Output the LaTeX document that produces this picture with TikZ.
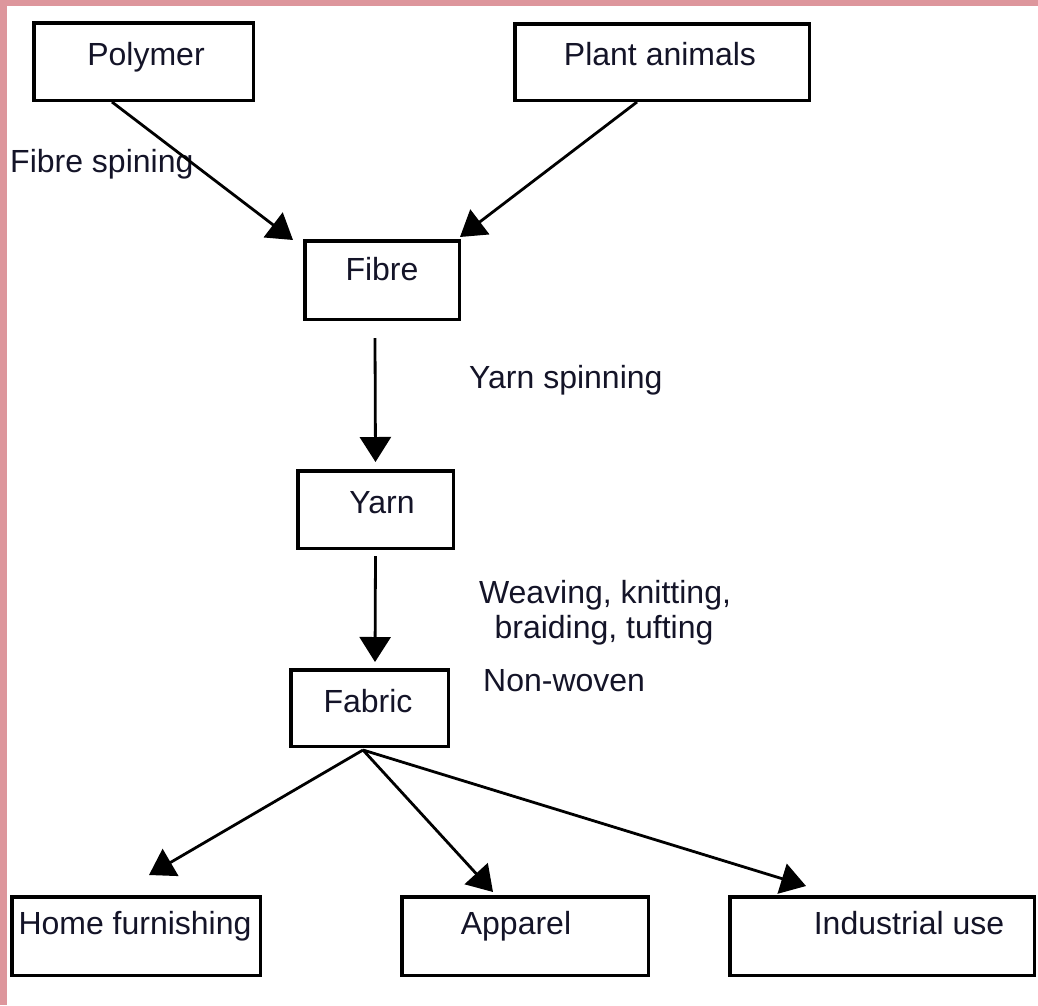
\documentclass[tikz,border=0pt]{standalone}
\usepackage{fontspec}
\setmainfont{Liberation Sans}
\usetikzlibrary{arrows.meta}
\definecolor{frame}{RGB}{221,150,156}
\definecolor{ink}{RGB}{20,20,40}
\begin{document}
\begin{tikzpicture}[x=1pt,y=-1pt,
  box/.style={draw=black,line width=3.5pt,fill=white,inner sep=0pt,rectangle},
  txt/.style={anchor=base,inner sep=0pt,text=ink,font=\fontsize{32}{35}\selectfont},
  arr/.style={draw=black,line width=2.8pt,-{Triangle[length=25pt,width=31pt]}}]
% page with a rose frame on top and left
\fill[frame] (0,0) rectangle (1038,1005);
\fill[white] (7,6) rectangle (1038,1005);
\useasboundingbox (0,0) rectangle (1038,1005);

% boxes
\node[box,minimum width=219.5pt,minimum height=77.5pt] (poly) at (143.5,61.5) {};
\node[box,minimum width=294.5pt,minimum height=76.5pt] (plant) at (662,62) {};
\node[box,minimum width=154.5pt,minimum height=78.5pt] (fibre) at (382,280) {};
\node[box,minimum width=155.5pt,minimum height=77.5pt] (yarn) at (375.5,509.5) {};
\node[box,minimum width=157.5pt,minimum height=76.5pt] (fabric) at (369.5,708) {};
\node[box,minimum width=248.5pt,minimum height=78.5pt] (home) at (136,936) {};
\node[box,minimum width=246.5pt,minimum height=78.5pt] (app) at (525,936) {};
\node[box,minimum width=304.5pt,minimum height=78.5pt] (ind) at (882,936) {};

% box texts
\node[txt] (poly-t) at (146,65) {Polymer};
\node[txt] (plant-t) at (660,65) {Plant animals};
\node[txt] (fibre-t) at (382,280) {Fibre};
\node[txt] (yarn-t) at (382,513) {Yarn};
\node[txt] (fabric-t) at (368,712) {Fabric};
\node[txt] (home-t) at (135,934) {Home furnishing};
\node[txt] (app-t) at (516,934) {Apparel};
\node[txt] (ind-t) at (909,934) {Industrial use};

% process labels
\node[txt,anchor=base west] (l-fs) at (10,172) {Fibre spining};
\node[txt,anchor=base west] (l-ys) at (469,388) {Yarn spinning};
\node[txt,anchor=base] (l-wk1) at (605,603) {Weaving, knitting,};
\node[txt,anchor=base] (l-wk2) at (604,638) {braiding, tufting};
\node[txt,anchor=base west] (l-nw) at (483,691) {Non-woven};

% connectors
\draw[arr] ([xshift=-31.5pt]poly.south) -- ([xshift=-10pt,yshift=-1pt]fibre.north west);
\draw[arr] ([xshift=-25pt]plant.south) -- ([xshift=-1pt,yshift=2pt]fibre.north east);
\draw[arr] ([xshift=-7pt,yshift=-17pt]fibre.south) -- ([yshift=7pt]yarn.north);
\draw[arr] ([yshift=-6pt]yarn.south) -- ([xshift=5.5pt,yshift=6pt]fabric.north);
\coordinate (fab-out) at ([xshift=-6.5pt,yshift=-2pt]fabric.south);
\draw[arr] (fab-out) -- ([xshift=13pt,yshift=20pt]home.north);
\draw[arr] (fab-out) -- ([xshift=-32pt,yshift=3pt]app.north);
\draw[arr] (fab-out) -- ([xshift=-76pt,yshift=9pt]ind.north);
\end{tikzpicture}
\end{document}
